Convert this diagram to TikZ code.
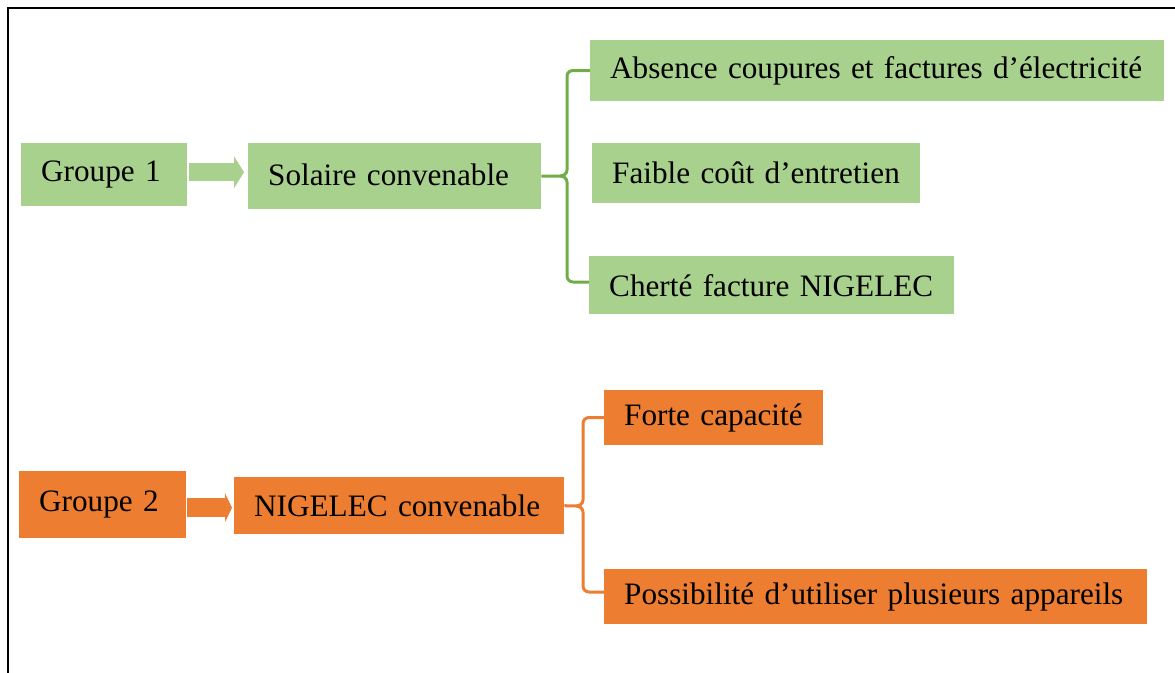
\documentclass[tikz,border=0pt]{standalone}
\usepackage{fontspec}
\setmainfont{Liberation Serif}
\usetikzlibrary{arrows.meta}
\definecolor{gfill}{HTML}{A9D18E}
\definecolor{gline}{HTML}{70AD47}
\definecolor{ofill}{HTML}{ED7D31}
\tikzset{
  box/.style={rectangle, anchor=north west, inner xsep=0pt, inner ysep=0pt, align=left,
    font=\fontsize{31.2}{36}\selectfont, text=black,
    execute at begin node={\hspace*{20pt}}},
  gbox/.style={box, fill=gfill},
  obox/.style={box, fill=ofill},
  garrow/.style={draw=gfill, line width=18pt, -{Triangle[width=32pt,length=10pt,line width=0pt]}},
  oarrow/.style={draw=ofill, line width=19pt, -{Triangle[width=29pt,length=7pt,line width=0pt]}},
  gbrace/.style={draw=gline, line width=3pt},
  obrace/.style={draw=ofill, line width=3pt},
}
\begin{document}
\begin{tikzpicture}[x=1pt,y=-1pt]
\useasboundingbox (0,0) rectangle (1175,672);
\draw[line width=2.4pt] (8,680) -- (8,8) -- (1180,8);

% group 1
\node[gbox, text width=166pt, minimum height=63pt] (g1) at (21,143) {Groupe 1};
\node[gbox, text width=293pt, minimum height=66pt] (s1) at (248,143) {\raisebox{3pt}{Solaire convenable}};
\node[gbox, text width=574pt, minimum height=61pt] (a1) at (590,40) {Absence coupures et factures d’électricité};
\node[gbox, text width=328pt, minimum height=60pt] (b1) at (592,143) {\raisebox{2pt}{Faible coût d’entretien}};
\node[gbox, text width=365pt, minimum height=58pt] (c1) at (589,256) {Cherté facture NIGELEC};

\draw[garrow, shorten >=4pt] ([xshift=2pt,yshift=2.5pt]g1.east) -- ([yshift=2.5pt]g1.east -| s1.west);

\draw[gbrace] (a1.west) -- (573,70.5) to[out=180,in=90] (567,76) -- (567,170) to[out=270,in=0] (560,176) -- (s1.east);
\draw[gbrace] ([yshift=3pt]c1.west) -- (573,282) to[out=180,in=270] (567,276) -- (567,182) to[out=90,in=0] (560,176);

% group 2
\node[obox, text width=167pt, minimum height=67pt] (g2) at (19,471) {\raisebox{3pt}{Groupe 2}};
\node[obox, text width=330pt, minimum height=57pt] (n2) at (234,477) {NIGELEC convenable};
\node[obox, text width=219pt, minimum height=55pt] (f2) at (604,390) {Forte capacité};
\node[obox, text width=543pt, minimum height=55pt] (p2) at (604,569) {Possibilité d’utiliser plusieurs appareils};

\draw[oarrow, shorten >=2pt] ([xshift=1pt,yshift=-3pt]g2.east) -- ([yshift=-3pt]g2.east -| n2.west);

\draw[obrace] (f2.west) -- (589,417.5) to[out=180,in=90] (583,423.5) -- (583,500) to[out=270,in=0] (576,506) -- (n2.east);
\draw[obrace] ([yshift=4.5pt]p2.west) -- (589,592) to[out=180,in=270] (583,586) -- (583,512) to[out=90,in=0] (576,506);
\end{tikzpicture}
\end{document}
